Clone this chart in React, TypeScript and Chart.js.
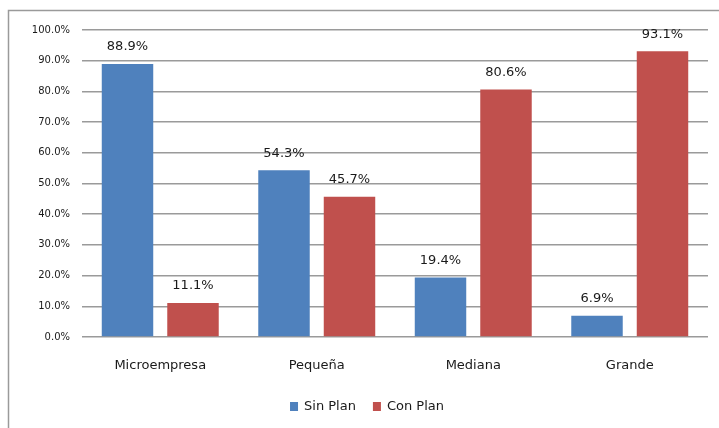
import React, { useEffect, useRef } from "react";
import { Chart, registerables } from "chart.js";

Chart.register(...registerables);

const categories = ["Microempresa", "Pequeña", "Mediana", "Grande"];
const sinPlan = [88.9, 54.3, 19.4, 6.9];
const conPlan = [11.1, 45.7, 80.6, 93.1];
const seriesNames = ["Sin Plan", "Con Plan"];
const seriesColors = ["#4F81BD", "#C0504D"];

const FONT = "'DejaVu Sans', sans-serif";

const decorPlugin = {
  id: "decor",
  beforeDraw(chart: any) {
    const ctx = chart.ctx;
    ctx.save();
    ctx.fillStyle = "#ffffff";
    ctx.fillRect(0, 0, chart.width, chart.height);
    ctx.strokeStyle = "#9a9a9a";
    ctx.lineWidth = 1.5;
    ctx.strokeRect(8.5, 10.5, chart.width + 20, chart.height + 20);
    ctx.restore();
  },
  afterDatasetsDraw(chart: any) {
    const ctx = chart.ctx;
    ctx.save();
    ctx.font = "13px " + FONT;
    ctx.fillStyle = "#1a1a1a";
    ctx.textAlign = "center";
    ctx.textBaseline = "middle";
    chart.data.datasets.forEach((ds: any, i: number) => {
      const meta = chart.getDatasetMeta(i);
      meta.data.forEach((bar: any, j: number) => {
        ctx.fillText(ds.data[j].toFixed(1) + "%", bar.x, bar.y - 17);
      });
    });
    // legend
    ctx.font = "13px " + FONT;
    ctx.textAlign = "left";
    const box = 8;
    const gapBoxText = 6;
    const gapItems = 17;
    const widths = seriesNames.map((n) => box + gapBoxText + ctx.measureText(n).width);
    const total = widths.reduce((a, b) => a + b, 0) + gapItems * (seriesNames.length - 1);
    let x = 367 - total / 2;
    const y = 407;
    seriesNames.forEach((n, i) => {
      ctx.fillStyle = seriesColors[i];
      ctx.fillRect(x, y - box / 2 - 1, box, box + 1);
      ctx.fillStyle = "#1a1a1a";
      ctx.fillText(n, x + box + gapBoxText, y);
      x += widths[i] + gapItems;
    });
    ctx.restore();
  },
};

export default function App() {
  const ref = useRef<HTMLCanvasElement>(null);
  useEffect(() => {
    if (!ref.current) return;
    const chart = new Chart(ref.current, {
      type: "bar",
      data: {
        labels: categories,
        datasets: [
          {
            label: seriesNames[0],
            data: sinPlan,
            backgroundColor: seriesColors[0],
            categoryPercentage: 0.837,
            barPercentage: 0.786,
          },
          {
            label: seriesNames[1],
            data: conPlan,
            backgroundColor: seriesColors[1],
            categoryPercentage: 0.837,
            barPercentage: 0.786,
          },
        ],
      },
      options: {
        responsive: false,
        animation: false,
        devicePixelRatio: 1,
        layout: { padding: { left: 0, right: 11, top: 30, bottom: 32 } },
        plugins: {
          legend: { display: false },
          tooltip: { enabled: false },
        },
        scales: {
          x: {
            grid: { display: false, drawTicks: false },
            border: { display: false },
            ticks: {
              padding: 21,
              color: "#1a1a1a",
              font: { family: FONT, size: 13 },
            },
            afterFit: (s: any) => {
              s.height = 59;
            },
          },
          y: {
            min: 0,
            max: 100,
            grid: { color: "#9a9a9a", lineWidth: 1.5, drawTicks: false },
            border: { display: false },
            ticks: {
              stepSize: 10,
              padding: 12,
              color: "#1a1a1a",
              font: { family: FONT, size: 10 },
              callback: (v: any) => Number(v).toFixed(1) + "%",
            },
            afterFit: (s: any) => {
              s.width = 82;
            },
          },
        },
      },
      plugins: [decorPlugin],
    });
    return () => chart.destroy();
  }, []);
  return (
    <div style={{ position: "fixed", left: 0, top: 0, width: 719, height: 428 }}>
      <canvas ref={ref} width={719} height={428} />
    </div>
  );
}
